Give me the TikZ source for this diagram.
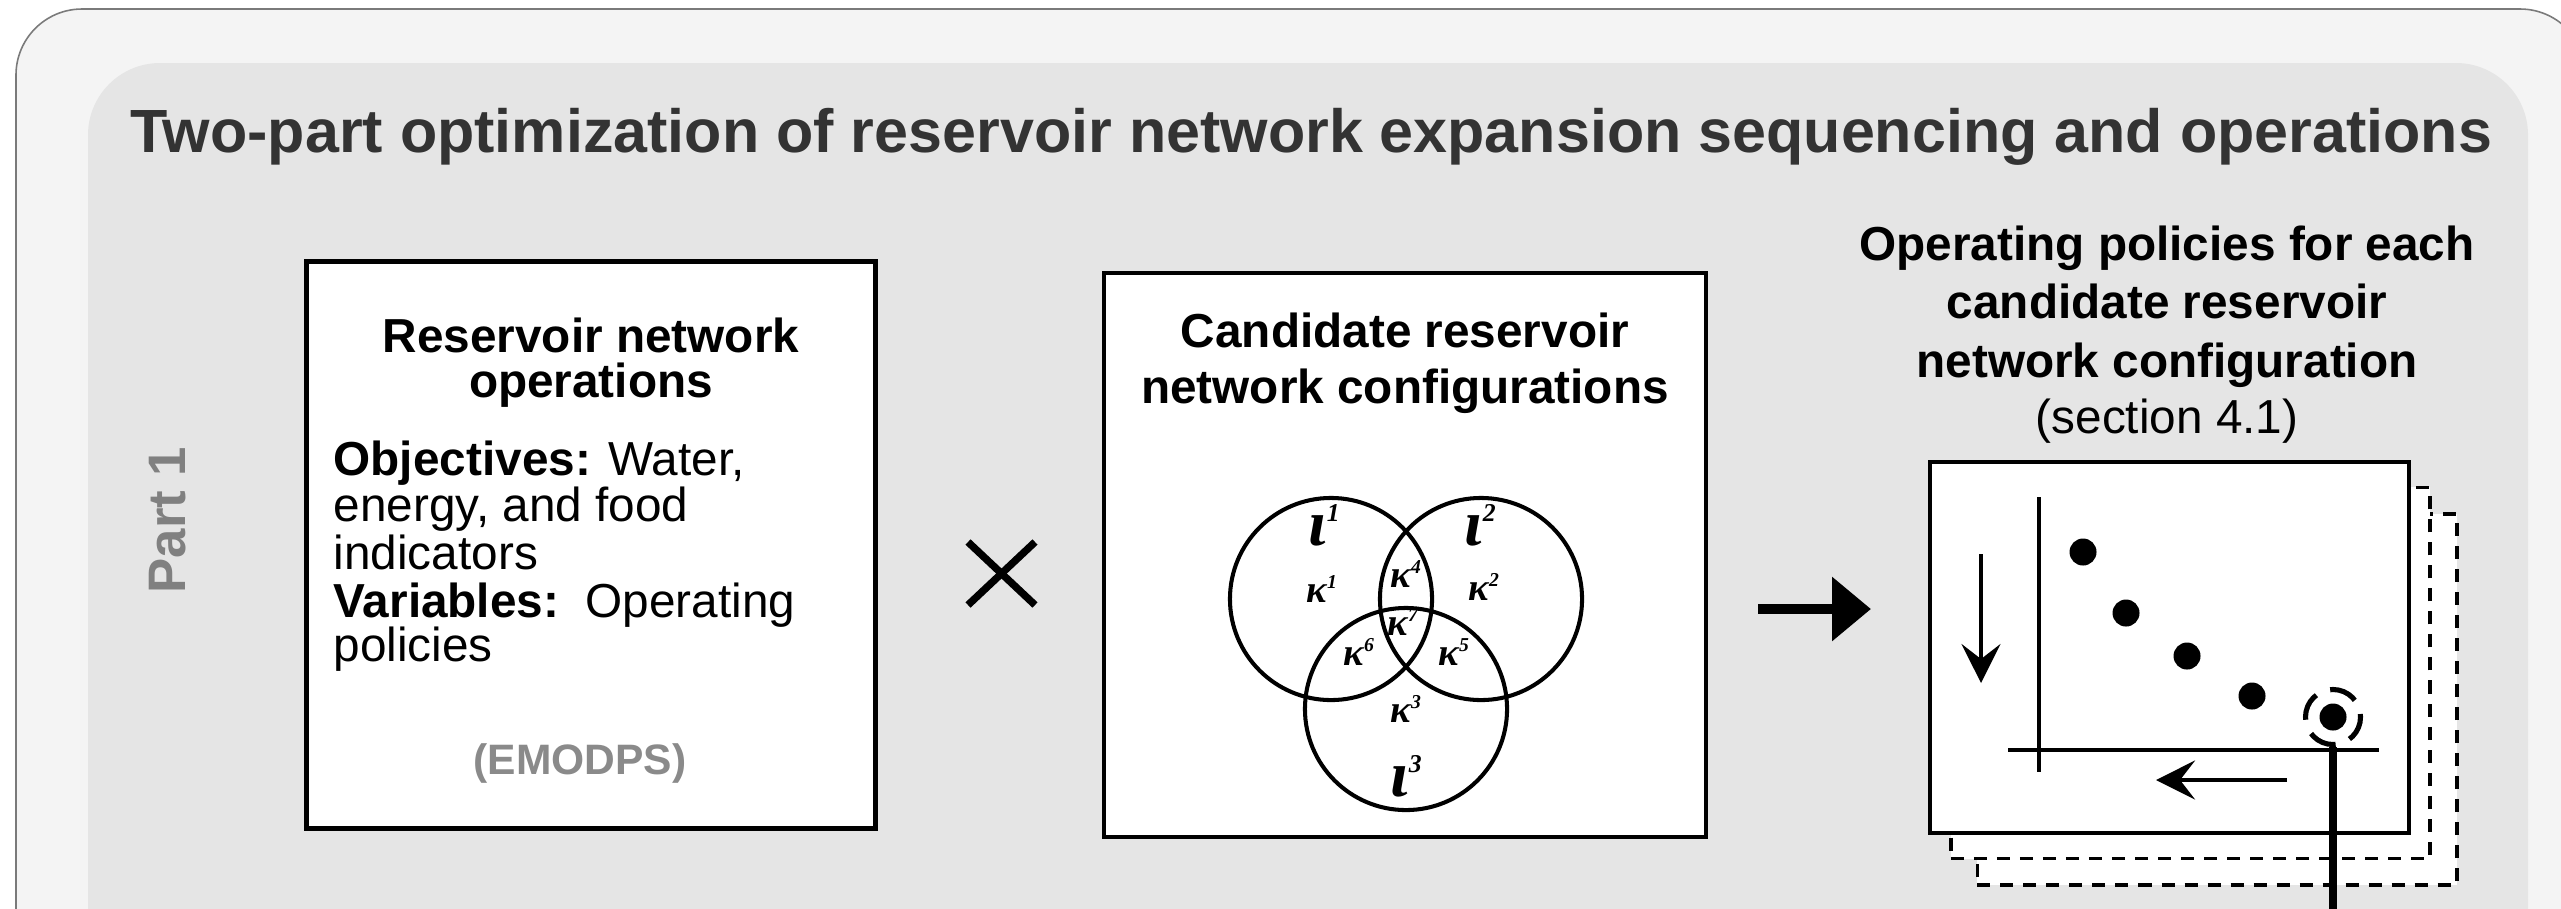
\documentclass[tikz,border=0pt]{standalone}
\usepackage{fontspec}
\setmainfont{Liberation Sans}
\newfontfamily\gserif{Liberation Serif}
\usetikzlibrary{arrows.meta}
\definecolor{outerfill}{HTML}{F4F4F4}
\definecolor{outerline}{HTML}{7A7A7A}
\definecolor{innerfill}{HTML}{E5E5E5}
\definecolor{titlecol}{HTML}{333333}
\definecolor{partcol}{HTML}{808080}
\definecolor{emocol}{HTML}{8A8A8A}
\newcommand\kfont{\gserif\bfseries\itshape\fontsize{11}{12}\selectfont}
\newcommand\ifont{\gserif\bfseries\itshape\fontsize{18.5}{20}\selectfont}
\newcommand\ksup[1]{\raisebox{0.36em}{\fontsize{5.6}{6}\selectfont #1}}
\newcommand\isup[1]{\raisebox{0.36em}{\fontsize{7.3}{8}\selectfont #1}}
\tikzset{
  titletext/.style={anchor=base, inner sep=0, text=titlecol, font=\fontsize{17.35}{20}\selectfont\bfseries},
  parttext/.style={inner sep=0, text=partcol, font=\fontsize{15}{18}\selectfont\bfseries},
  boxnode/.style={draw=black, fill=white, line width=1.28pt, inner sep=0},
  headtext/.style={anchor=base, inner sep=0, font=\fontsize{13.57}{16}\selectfont\bfseries},
  bodytext/.style={anchor=base west, inner sep=0, font=\fontsize{13.57}{16}\selectfont},
  plaintext/.style={anchor=base, inner sep=0, font=\fontsize{13.57}{16}\selectfont},
  emotext/.style={anchor=base, inner sep=0, text=emocol, font=\fontsize{12.1}{14}\selectfont\bfseries},
  venncirc/.style={circle, draw=black, line width=1.15pt, minimum size=2.02cm, inner sep=0},
  klabel/.style={anchor=base west, inner sep=0, font=\kfont},
  ilabel/.style={anchor=base west, inner sep=0, font=\ifont},
  backsheet/.style={draw=black, fill=white, line width=1.05pt, dash pattern=on 0.13cm off 0.1cm, inner sep=0, minimum width=4.79cm, minimum height=3.71cm},
  plotline/.style={line width=1.14pt},
  dotnode/.style={circle, fill=black, minimum size=0.27cm, inner sep=0},
  selnode/.style={circle, draw=black, line width=1.45pt, minimum size=0.55cm, inner sep=0, dash pattern=on 0.28cm off 0.15cm, dash phase=0.25cm},
  bigarrow/.style={line width=3.1pt, -{Triangle[length=0.39cm, width=0.62cm]}},
  plotarrow/.style={line width=1.14pt, -{Stealth[length=0.39cm, width=0.39cm, inset=0.15cm]}},
  crossline/.style={line width=2.1pt},
  pickline/.style={line width=2.3pt}
}
\begin{document}
\begin{tikzpicture}[x=0.01cm, y=-0.01cm]
\useasboundingbox (0,0) rectangle (2561,908);
\clip (0,0) rectangle (2561,908);
\fill[white] (0,0) rectangle (2561,908);
% frames
\draw[draw=outerline, fill=outerfill, line width=0.45pt, rounded corners=0.66cm] (16,9) rectangle (2586,1100);
\fill[innerfill, rounded corners=0.72cm] (88,63) rectangle (2528,1100);
% title
\node[titletext] (title) at (1311,152) {Two-part optimization of reservoir network expansion sequencing and operations};
\node[parttext, rotate=90] (part) at (168,520) {Part 1};
% box 1
\node[boxnode, minimum width=5.69cm, minimum height=5.67cm] (ops) at (591,545) {};
\node[headtext] (opsh1) at (591,352) {Reservoir network};
\node[headtext] (opsh2) at (591,397) {operations};
\node[bodytext] (opsb1) at (333,475) {\textbf{Objectives:} Water,};
\node[bodytext] (opsb2) at (333,521) {energy, and food};
\node[bodytext] (opsb3) at (333,569) {indicators};
\node[bodytext] (opsb4) at (333,617) {\textbf{Variables:}\ \ Operating};
\node[bodytext] (opsb5) at (333,661) {policies};
\node[emotext] (emo) at (580,774) {(EMODPS)};
% cross
\coordinate (xa) at (968,542);
\coordinate (xb) at (1035,605);
\coordinate (xc) at (968,605);
\coordinate (xd) at (1035,542);
\draw[crossline] (xa) -- (xb);
\draw[crossline] (xc) -- (xd);
% box 2
\node[boxnode, minimum width=6.02cm, minimum height=5.64cm] (cand) at (1405,555) {};
\node[headtext] (candh1) at (1405,347) {Candidate reservoir};
\node[headtext] (candh2) at (1405,403) {network configurations};
\node[venncirc] (v1) at (1331,599) {};
\node[venncirc] (v2) at (1481,599) {};
\node[venncirc] (v3) at (1406,709) {};
\node[ilabel] (i1) at (1308,545) {ι\isup{1}};
\node[ilabel] (i2) at (1464,545) {ι\isup{2}};
\node[ilabel] (i3) at (1390,796) {ι\isup{3}};
\node[klabel] (k1) at (1306,602) {κ\ksup{1}};
\node[klabel] (k4) at (1390,587) {κ\ksup{4}};
\node[klabel] (k2) at (1468,600) {κ\ksup{2}};
\node[klabel] (k7) at (1387,635) {κ\ksup{7}};
\node[klabel] (k6) at (1343,665) {κ\ksup{6}};
\node[klabel] (k5) at (1438,665) {κ\ksup{5}};
\node[klabel] (k3) at (1390,722) {κ\ksup{3}};
% arrow
\coordinate (arA) at (1758,609);
\coordinate (arB) at (1871,609);
\draw[bigarrow] (arA) -- (arB);
% right heading
\node[headtext] (poh1) at (2167,260) {Operating policies for each};
\node[headtext] (poh2) at (2167,318) {candidate reservoir};
\node[headtext] (poh3) at (2167,377) {network configuration};
\node[plaintext] (poh4) at (2167,433) {(section 4.1)};
% plot sheets
\node[backsheet] (sheet2) at (2217,699.5) {};
\node[backsheet] (sheet1) at (2190.5,673) {};
\node[boxnode, minimum width=4.79cm, minimum height=3.71cm] (plot) at (2169.5,647.5) {};
\coordinate (yaxT) at (2039,497);
\coordinate (yaxB) at (2039,772);
\coordinate (xaxL) at (2008,750);
\coordinate (xaxR) at (2379,750);
\draw[plotline] (yaxT) -- (yaxB);
\draw[plotline] (xaxL) -- (xaxR);
\coordinate (dnA) at (1981,554);
\coordinate (dnB) at (1981,683);
\draw[plotarrow] (dnA) -- (dnB);
\coordinate (lfA) at (2287,780);
\coordinate (lfB) at (2156,780);
\draw[plotarrow] (lfA) -- (lfB);
\node[dotnode] (d1) at (2083,552) {};
\node[dotnode] (d2) at (2126,613) {};
\node[dotnode] (d3) at (2187,656) {};
\node[dotnode] (d4) at (2252,696) {};
\node[dotnode] (d5) at (2333,717) {};
\node[selnode] (sel) at (2333,717) {};
\coordinate (pickend) at (2333,950);
\draw[pickline] (sel.south) -- (pickend);
\end{tikzpicture}
\end{document}
